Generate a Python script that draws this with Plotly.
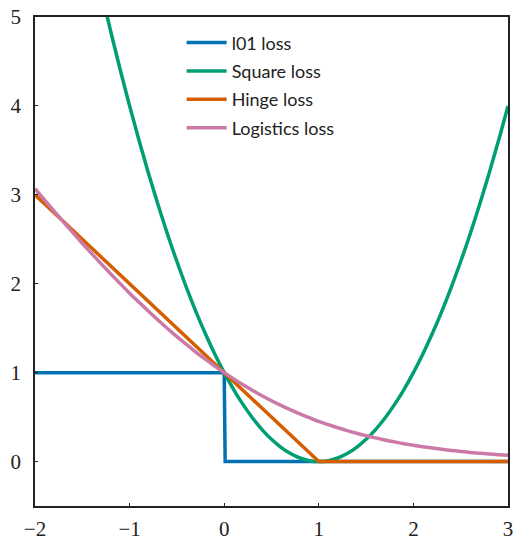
import plotly.graph_objects as go

# sample positions (x)
x_grid = [round(-2 + 0.1 * i, 1) for i in range(51)]

# l01 loss
l01_x = [-2, 0, 0.01, 3]
l01_y = [1, 1, 0, 0]

# Square loss values at x_grid
square_y = [9.00, 8.41, 7.84, 7.29, 6.76, 6.25, 5.76, 5.29, 4.84, 4.41,
            4.00, 3.61, 3.24, 2.89, 2.56, 2.25, 1.96, 1.69, 1.44, 1.21,
            1.00, 0.81, 0.64, 0.49, 0.36, 0.25, 0.16, 0.09, 0.04, 0.01,
            0.00, 0.01, 0.04, 0.09, 0.16, 0.25, 0.36, 0.49, 0.64, 0.81,
            1.00, 1.21, 1.44, 1.69, 1.96, 2.25, 2.56, 2.89, 3.24, 3.61, 4.00]

# Hinge loss
hinge_x = [-2, 1, 3]
hinge_y = [3, 0, 0]

# Logistics loss values at x_grid
logistic_y = [3.069, 2.942, 2.818, 2.695, 2.574, 2.455, 2.338, 2.223, 2.111, 2.001,
              1.894, 1.791, 1.690, 1.592, 1.497, 1.405, 1.317, 1.232, 1.151, 1.074,
              1.000, 0.930, 0.863, 0.800, 0.740, 0.684, 0.631, 0.582, 0.535, 0.493,
              0.452, 0.415, 0.380, 0.348, 0.318, 0.291, 0.266, 0.242, 0.221, 0.201,
              0.183, 0.167, 0.152, 0.138, 0.125, 0.114, 0.103, 0.094, 0.085, 0.077, 0.070]

x_ticks = [-2, -1, 0, 1, 2, 3]
x_tick_labels = ["−2", "−1", "0", "1", "2", "3"]
y_ticks = [0, 1, 2, 3, 4, 5]
y_tick_labels = ["0", "1", "2", "3", "4", "5"]

colors = ["#0072B2", "#009E73", "#D55E00", "#CC79A7"]
lw = 3.5

fig = go.Figure()
fig.add_trace(go.Scatter(x=l01_x, y=l01_y, mode="lines", name="l01 loss", legendgroup="a",
                         line=dict(color=colors[0], width=lw)))
fig.add_trace(go.Scatter(x=x_grid, y=square_y, mode="lines", name="Square loss", legendgroup="b",
                         line=dict(color=colors[1], width=lw, shape="spline")))
fig.add_trace(go.Scatter(x=hinge_x, y=hinge_y, mode="lines", name="Hinge loss", legendgroup="c",
                         line=dict(color=colors[2], width=lw)))
fig.add_trace(go.Scatter(x=x_grid, y=logistic_y, mode="lines", name="Logistics loss", legendgroup="d",
                         line=dict(color=colors[3], width=lw, shape="spline")))

axis_common = dict(showline=True, mirror=True, linecolor="#222", linewidth=1.5,
                   showgrid=False, zeroline=False, ticks="inside", ticklen=3,
                   tickcolor="#222", tickwidth=1, automargin=False,
                   ticklabeloverflow="allow",
                   tickfont=dict(family="Liberation Serif", size=21, color="#222"))

fig.update_layout(
    width=517, height=541,
    margin=dict(l=35, r=9, t=17, b=35),
    paper_bgcolor="white", plot_bgcolor="white",
    showlegend=True,
    legend=dict(x=0.31, y=0.985, xanchor="left", yanchor="top",
                bgcolor="rgba(0,0,0,0)", font=dict(family="Lato", size=18, color="#222"),
                tracegroupgap=2, itemwidth=40),
    xaxis=dict(range=[-2, 3], tickvals=x_ticks, ticktext=x_tick_labels,
               ticklabelstandoff=3, **axis_common),
    yaxis=dict(range=[-0.5, 5], tickvals=y_ticks, ticktext=y_tick_labels,
               ticklabelstandoff=8, **axis_common),
)

# remove the default page margin so the figure fills the window exactly
fig.write_html("out.html",
               config={"displayModeBar": False},
               post_script="document.body.style.margin='0';document.body.style.overflow='hidden';")
